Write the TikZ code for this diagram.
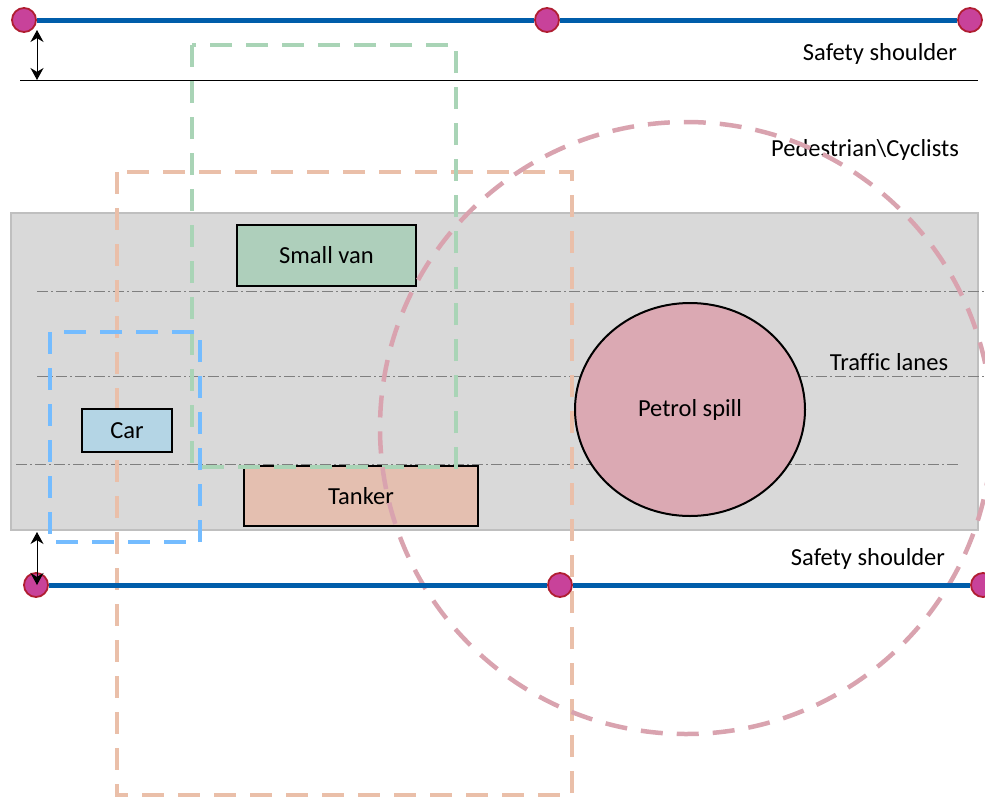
\documentclass[tikz,border=0pt]{standalone}
\usepackage{fontspec}
\setmainfont{Carlito}[Ligatures=NoCommon]
\usepackage{tikz}
\usetikzlibrary{arrows.meta, positioning, shapes.geometric}
\definecolor{roadgrey}{HTML}{D9D9D9}
\definecolor{roadedge}{HTML}{BFBFBF}
\definecolor{lanegrey}{HTML}{7F7F7F}
\definecolor{kerbblue}{HTML}{005DAA}
\definecolor{postfill}{HTML}{C8429A}
\definecolor{postedge}{HTML}{B01E32}
\definecolor{vangreen}{HTML}{AECFBB}
\definecolor{vanzone}{HTML}{A9D4B6}
\definecolor{carblue}{HTML}{B4D5E5}
\definecolor{carzone}{HTML}{74BCFF}
\definecolor{tankerfill}{HTML}{E4BFB0}
\definecolor{tankerzone}{HTML}{EABFA9}
\definecolor{spillfill}{HTML}{DBA9B3}
\definecolor{spillzone}{HTML}{D9A3AF}

\begin{document}
\begin{tikzpicture}[
    x=1pt, y=-1pt,
    every node/.style={font=\fontsize{24.5}{28}\selectfont},
    vehicle/.style={rectangle, draw=black, line width=2pt, inner sep=0pt},
    post/.style={circle, draw=postedge, fill=postfill, line width=1.8pt, minimum size=24pt, inner sep=0pt},
    kerb/.style={kerbblue, line width=5pt},
    lane/.style={lanegrey, line width=0.9pt, dash pattern=on 11pt off 3pt on 2pt off 3pt},
    zone/.style={line width=4.5pt, dash pattern=on 22pt off 14pt},
    gap/.style={{Stealth[length=12pt, width=13pt]}-{Stealth[length=12pt, width=13pt]}, line width=1pt},
  ]
  \useasboundingbox (0,0) rectangle (985,798);

  % Road surface and lane markings
  \draw[fill=roadgrey, draw=roadedge, line width=2pt] (11,213) rectangle (978,530);
  \draw[lane] (37,291) -- (985,291);
  \draw[lane] (37,376) -- (985,376);
  \draw[lane] (16,464) -- (958,464);

  % Shoulder edge
  \draw[black, line width=1pt] (20,80) -- (978,80);

  % Vehicles and spill
  \node[vehicle, fill=vangreen, minimum width=179pt, minimum height=61pt] (van) at (326.5,255.5) {Small van};
  \node[vehicle, fill=tankerfill, minimum width=234pt, minimum height=60pt] (tanker) at (361,496) {Tanker};
  \node[ellipse, draw=black, line width=2pt, fill=spillfill, minimum width=230pt, minimum height=213pt, inner sep=0pt] (spill) at (690,409.5) {Petrol spill};

  % Labels
  \node (topshoulder) at (880,54) {Safety shoulder};
  \node (pedlabel) at (865,150) {Pedestrian\textbackslash Cyclists};
  \node (lanelabel) at (889,362) {Traffic lanes};
  \node (botshoulder) at (868,559) {Safety shoulder};

  % Exclusion zones
  \draw[zone, tankerzone] (117,172) rectangle (572,795);
  \node[vehicle, fill=carblue, minimum width=90pt, minimum height=43pt] (car) at (127,430.5) {Car};
  \draw[zone, vanzone] (192,45) rectangle (456,467);
  \draw[zone, carzone] (50,332) rectangle (200,542);
  \draw[zone, spillzone] (686,428) circle (306);

  % Kerb lines with posts
  \node[post] (tl) at (24,20) {};
  \node[post] (tm) at (547,20) {};
  \node[post] (tr) at (970,20) {};
  \node[post] (bl) at (36,585) {};
  \node[post] (bm) at (560,585) {};
  \node[post] (br) at (983,585) {};
  \draw[kerb] (tl) -- (tm);
  \draw[kerb] (tm) -- (tr);
  \draw[kerb] (bl) -- (bm);
  \draw[kerb] (bm) -- (br);

  % Shoulder widths
  \coordinate (topgap) at (37,80);
  \coordinate (botgap) at (37,532);
  \draw[gap] ([xshift=13pt, yshift=-10pt]tl.center) -- (topgap);
  \draw[gap] (botgap) -- ([xshift=1pt]bl.center);
\end{tikzpicture}
\end{document}
